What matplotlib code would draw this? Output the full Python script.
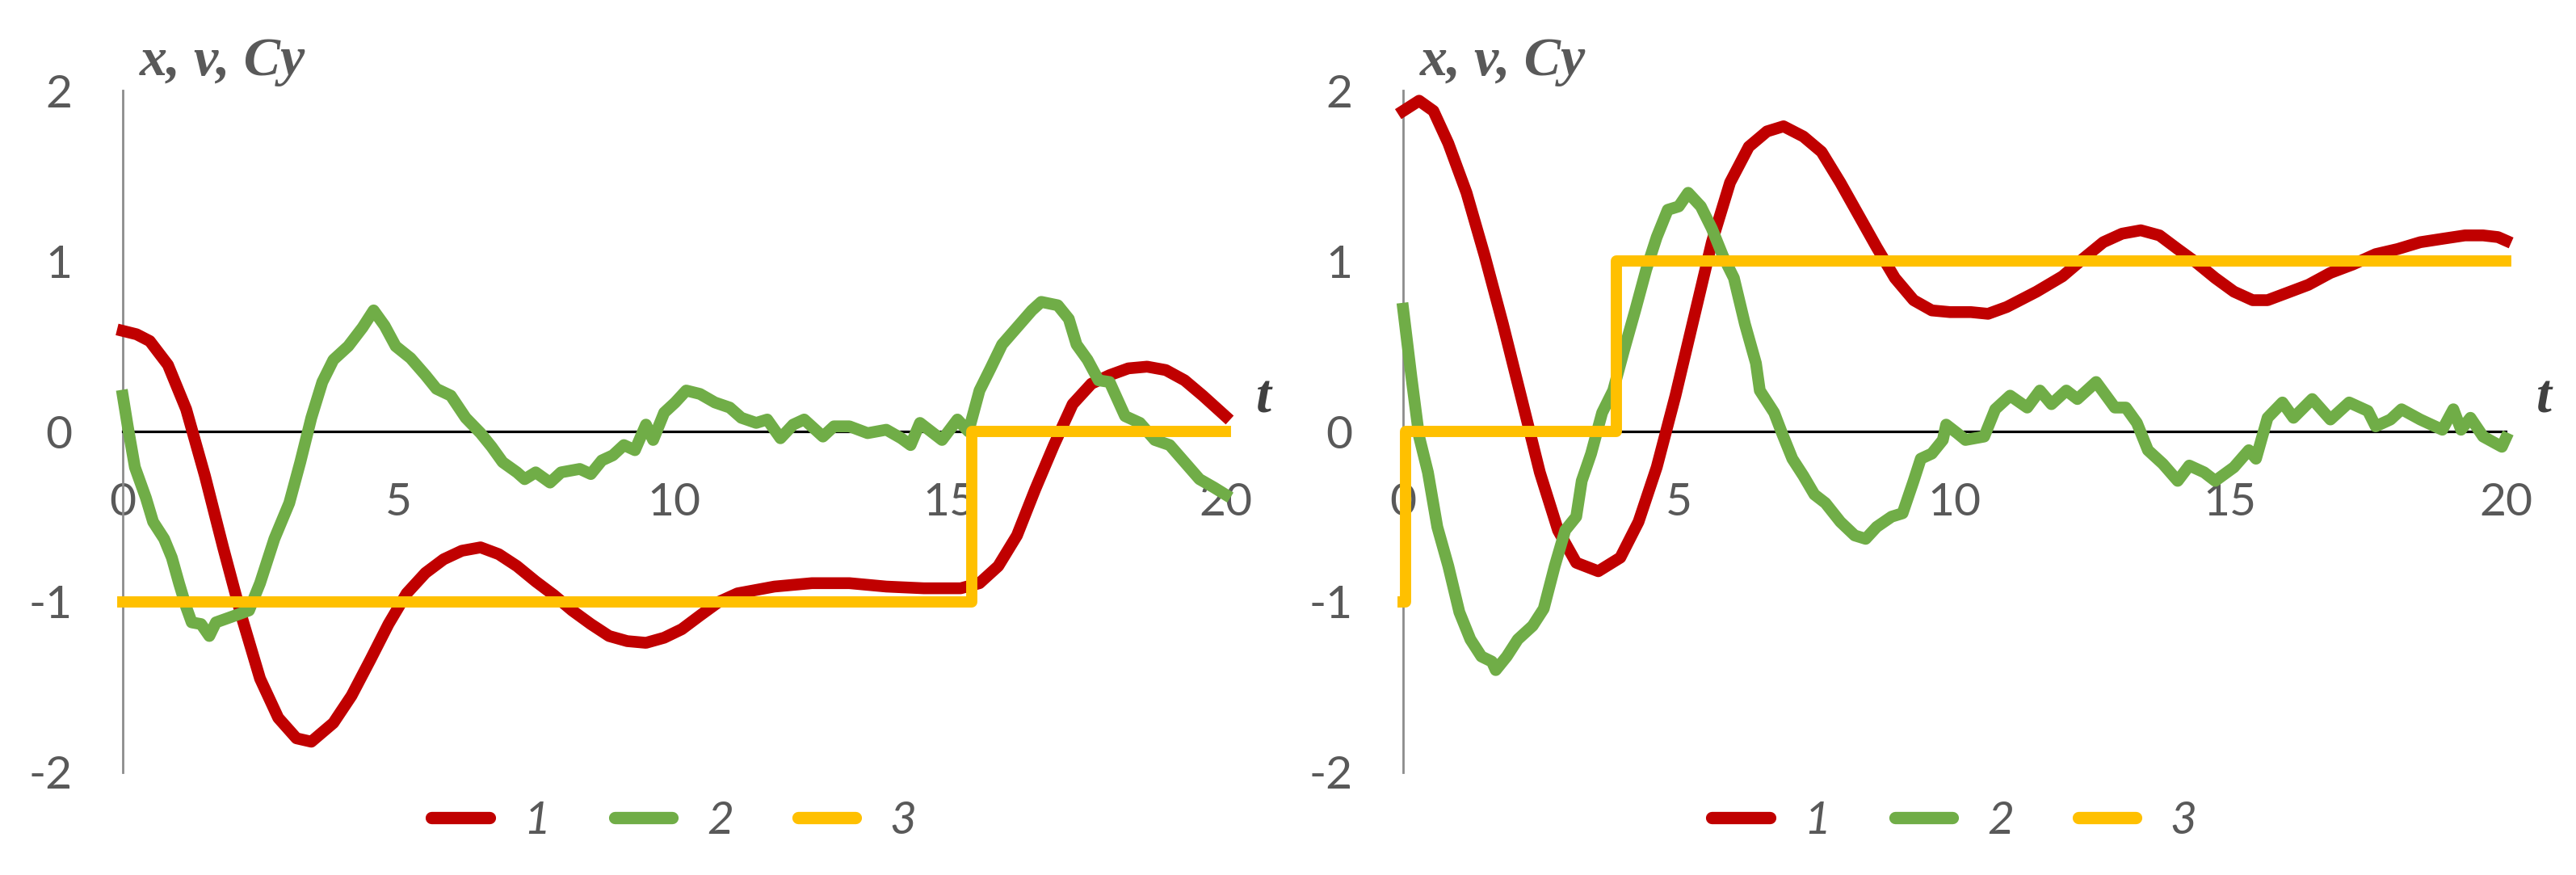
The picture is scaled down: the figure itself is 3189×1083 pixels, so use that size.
import matplotlib.pyplot as plt
from matplotlib.lines import Line2D

# ---- data ----
# left panel
t_red_a = [0, 0.25, 0.49, 0.82, 1.15, 1.49, 1.82, 2.15, 2.49, 2.82, 3.15, 3.42, 3.82, 4.15, 4.49,
           4.82, 5.15, 5.49, 5.82, 6.15, 6.49, 6.82, 7.15, 7.49, 7.82, 8.15, 8.49, 8.82, 9.15, 9.49,
           9.82, 10.14, 10.47, 10.81, 11.15, 11.82, 12.5, 13.18, 13.85, 14.53, 15.2, 15.54, 15.88,
           16.22, 16.55, 16.89, 17.23, 17.57, 17.9, 18.24, 18.58, 18.92, 19.26, 19.59, 20.0]
red_a = [0.59, 0.57, 0.53, 0.39, 0.13, -0.26, -0.68, -1.08, -1.45, -1.68, -1.80, -1.82, -1.71, -1.55, -1.34,
         -1.13, -0.95, -0.83, -0.75, -0.70, -0.68, -0.72, -0.79, -0.88, -0.96, -1.05, -1.13, -1.20, -1.23, -1.24,
         -1.21, -1.16, -1.08, -1.00, -0.95, -0.91, -0.89, -0.89, -0.91, -0.92, -0.92, -0.89, -0.79,
         -0.61, -0.34, -0.08, 0.16, 0.28, 0.33, 0.37, 0.38, 0.36, 0.30, 0.21, 0.09]

t_green_a = [0, 0.09, 0.22, 0.42, 0.55, 0.75, 0.89, 1.02, 1.15, 1.25, 1.42, 1.57, 1.69, 1.95, 2.29,
             2.49, 2.75, 3.02, 3.22, 3.42, 3.62, 3.82, 4.09, 4.35, 4.55, 4.75, 4.95, 5.22, 5.49, 5.69,
             5.95, 6.22, 6.49, 6.69, 6.89, 7.15, 7.29, 7.49, 7.75, 7.95, 8.29, 8.49, 8.69, 8.89, 9.09,
             9.29, 9.49, 9.62, 9.82, 10.02, 10.22, 10.47, 10.74, 11.01, 11.22, 11.49, 11.69, 11.93,
             12.16, 12.36, 12.7, 12.9, 13.18, 13.51, 13.85, 14.12, 14.29, 14.46, 14.66, 14.86, 15.14,
             15.34, 15.54, 15.74, 15.95, 16.22, 16.49, 16.66, 16.96, 17.16, 17.3, 17.5, 17.7, 17.9,
             18.18, 18.45, 18.72, 18.99, 19.26, 19.53, 19.8, 20.0]
green_a = [0.21, 0.03, -0.21, -0.39, -0.53, -0.63, -0.74, -0.89, -1.03, -1.12, -1.13, -1.20, -1.12, -1.09, -1.05,
           -0.89, -0.63, -0.42, -0.18, 0.08, 0.29, 0.42, 0.50, 0.61, 0.71, 0.62, 0.50, 0.43, 0.33, 0.25,
           0.21, 0.08, -0.01, -0.09, -0.18, -0.24, -0.28, -0.24, -0.30, -0.24, -0.22, -0.25, -0.17, -0.14, -0.08,
           -0.11, 0.04, -0.05, 0.11, 0.17, 0.24, 0.22, 0.17, 0.14, 0.08, 0.05, 0.07, -0.04,
           0.04, 0.07, -0.03, 0.03, 0.03, -0.01, 0.01, -0.04, -0.08, 0.05, 0.0, -0.05, 0.07,
           0.0, 0.24, 0.37, 0.51, 0.61, 0.71, 0.76, 0.74, 0.66, 0.51, 0.42, 0.30, 0.29,
           0.09, 0.05, -0.05, -0.08, -0.18, -0.28, -0.33, -0.37]

t_yel_a = [0, 15.4, 20]
yel_a = [-1, 0, 0]

# right panel
t_red_b = [0, 0.29, 0.55, 0.82, 1.15, 1.48, 1.81, 2.15, 2.48, 2.81, 3.14, 3.54, 3.94, 4.27, 4.6,
           4.94, 5.27, 5.6, 5.93, 6.27, 6.6, 6.9, 7.26, 7.59, 7.93, 8.26, 8.59, 8.92, 9.26, 9.59,
           9.92, 10.3, 10.61, 10.95, 11.49, 11.96, 12.36, 12.7, 13.04, 13.38, 13.72, 14.05, 14.39,
           14.73, 15.07, 15.41, 15.68, 16.01, 16.42, 16.82, 17.23, 17.64, 18.04, 18.45, 18.85,
           19.26, 19.59, 19.86, 20.0]
red_b = [1.88, 1.94, 1.88, 1.69, 1.40, 1.03, 0.63, 0.19, -0.24, -0.58, -0.77, -0.82, -0.74, -0.53, -0.21,
         0.21, 0.66, 1.11, 1.46, 1.67, 1.76, 1.79, 1.73, 1.64, 1.46, 1.27, 1.08, 0.90, 0.77, 0.71,
         0.70, 0.70, 0.69, 0.73, 0.82, 0.91, 1.02, 1.11, 1.16, 1.18, 1.15, 1.07, 0.99,
         0.90, 0.82, 0.77, 0.77, 0.81, 0.86, 0.93, 0.98, 1.04, 1.07, 1.11, 1.13,
         1.15, 1.15, 1.14, 1.12]

t_green_b = [0, 0.15, 0.29, 0.45, 0.62, 0.82, 1.02, 1.22, 1.42, 1.61, 1.68, 1.88, 2.08, 2.35, 2.55,
             2.75, 2.94, 3.14, 3.24, 3.41, 3.61, 3.81, 4.01, 4.21, 4.41, 4.6, 4.8, 5.0, 5.17, 5.4,
             5.6, 5.8, 6.0, 6.2, 6.4, 6.47, 6.73, 6.86, 7.06, 7.26, 7.46, 7.66, 7.93, 8.19, 8.39,
             8.59, 8.86, 9.06, 9.26, 9.39, 9.59, 9.79, 9.85, 10.05, 10.2, 10.54, 10.74, 11.01, 11.32,
             11.55, 11.76, 12.03, 12.23, 12.57, 12.91, 13.11, 13.31, 13.51, 13.78, 14.05, 14.26,
             14.53, 14.73, 15.07, 15.34, 15.47, 15.68, 15.95, 16.15, 16.49, 16.82, 17.16, 17.5,
             17.64, 17.91, 18.11, 18.45, 18.85, 19.05, 19.19, 19.36, 19.59, 19.93, 20.0]
green_b = [0.72, 0.32, -0.03, -0.24, -0.56, -0.79, -1.06, -1.22, -1.32, -1.35, -1.40, -1.32, -1.22, -1.14, -1.04,
           -0.79, -0.58, -0.50, -0.29, -0.13, 0.11, 0.24, 0.48, 0.71, 0.95, 1.14, 1.30, 1.32, 1.40, 1.32,
           1.19, 1.03, 0.90, 0.63, 0.40, 0.24, 0.11, 0.0, -0.16, -0.26, -0.37, -0.42, -0.53, -0.61, -0.63,
           -0.56, -0.50, -0.48, -0.29, -0.16, -0.13, -0.05, 0.04, -0.01, -0.05, -0.03, 0.13, 0.21, 0.14,
           0.24, 0.16, 0.24, 0.19, 0.29, 0.14, 0.14, 0.05, -0.11, -0.19, -0.29, -0.20,
           -0.24, -0.29, -0.21, -0.11, -0.16, 0.08, 0.17, 0.08, 0.19, 0.07, 0.17, 0.12,
           0.03, 0.07, 0.13, 0.07, 0.01, 0.13, 0.01, 0.08, -0.03, -0.09, -0.04]

t_yel_b = [0, 0.05, 3.87, 20]
yel_b = [-1, 0, 1, 1]

xticks = [0, 5, 10, 15, 20]
yticks = [-2, -1, 0, 1, 2]
labels = ['1', '2', '3']
colors = ['#C00000', '#70AD47', '#FFC000']

plt.rcParams['font.family'] = ['Lato', 'DejaVu Sans']
plt.rcParams['axes.unicode_minus'] = False

fig = plt.figure(figsize=(31.89, 10.83), dpi=100)
ax1 = fig.add_axes([0.04766, 0.11727, 0.42803, 0.77931])
ax2 = fig.add_axes([0.54469, 0.11727, 0.42803, 0.77931])

panels = [(ax1, t_red_a, red_a, t_green_a, green_a, t_yel_a, yel_a),
          (ax2, t_red_b, red_b, t_green_b, green_b, t_yel_b, yel_b)]

lw = 10.5
for ax, tr, r, tg, g, ty, yy in panels:
    ax.plot(tr, r, color=colors[0], lw=lw, solid_joinstyle='round', zorder=3, clip_on=False)
    ax.plot(tg, g, color=colors[1], lw=lw, solid_joinstyle='round', zorder=4, clip_on=False)
    ax.plot(ty, yy, color=colors[2], lw=lw - 0.5, drawstyle='steps-post', zorder=5, clip_on=False)

    ax.set_xlim(0, 20)
    ax.set_ylim(-2, 2)
    ax.spines['top'].set_visible(False)
    ax.spines['right'].set_visible(False)
    ax.spines['left'].set_color('#8C8C8C')
    ax.spines['left'].set_linewidth(2)
    ax.spines['bottom'].set_position(('data', 0))
    ax.spines['bottom'].set_color('black')
    ax.spines['bottom'].set_linewidth(2.3)
    ax.set_xticks(xticks)
    ax.set_yticks(yticks)
    ax.tick_params(length=0, labelsize=41, labelcolor='#595959', pad=45)

    ax.text(0.3, 2.09, 'x, v, Cy', family=['Liberation Serif'], style='italic', weight='bold',
            size=49, color='#595959', va='baseline', ha='left', clip_on=False)
    ax.text(20.55, 0.11, 't', family=['Liberation Serif'], style='italic', weight='bold',
            size=49, color='#404040', va='baseline', ha='left', clip_on=False)

    handles = [Line2D([], [], color=c, lw=11, solid_capstyle='round') for c in colors]
    ax.legend(handles, labels, loc='center', bbox_to_anchor=(0.5, -0.072), ncol=3, frameon=False,
              handlelength=1.25, handletextpad=0.75, columnspacing=1.4,
              prop={'style': 'italic', 'size': 41}, labelcolor='#595959')

fig.savefig('out.png', dpi=100)
